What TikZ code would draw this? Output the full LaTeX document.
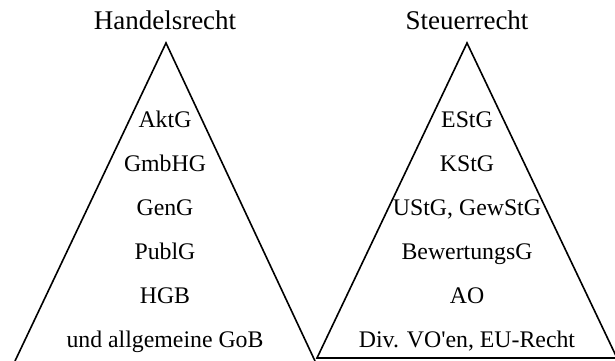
\documentclass[tikz,border=0pt]{standalone}
\usepackage{fontspec}
\setmainfont{Liberation Serif}
\newfontfamily\plainq{Liberation Serif}
\begin{document}
\begin{tikzpicture}[x=1pt,y=1pt,
  title/.style={anchor=base,inner sep=0pt,font=\fontsize{27}{31}\selectfont},
  item/.style={anchor=base,inner sep=0pt,font=\fontsize{23.8}{28}\selectfont},
  edge/.style={line width=1.6pt,line join=miter}]
\useasboundingbox (0,0) rectangle (615,360);
% left triangle (base not shown)
\coordinate (LA) at (166,317);
\coordinate (LL) at (15,-1);
\coordinate (LR) at (315,-1);
\draw[edge] (LL) -- (LA) -- (LR);
% right triangle
\coordinate (RA) at (467,317);
\coordinate (RL) at (317,2);
\coordinate (RR) at (617,2);
\draw[edge] (RL) -- (RA) -- (RR) -- cycle;
% titles
\node[title] (t1) at (165,331) {Handelsrecht};
\node[title] (t2) at (467,331) {Steuerrecht};
% left items
\node[item] (l1) at (165,233) {AktG};
\node[item] (l2) at (165,189) {GmbHG};
\node[item] (l3) at (165,145) {GenG};
\node[item] (l4) at (165,101) {PublG};
\node[item] (l5) at (165,57) {HGB};
\node[item] (l6) at (165,13) {und allgemeine GoB};
% right items
\node[item] (r1) at (467,233) {EStG};
\node[item] (r2) at (467,189) {KStG};
\node[item] (r3) at (467,145) {UStG, GewStG};
\node[item] (r4) at (467,101) {BewertungsG};
\node[item] (r5) at (467,57) {AO};
\node[item] (r6) at (467,13) {Div. VO{\plainq '}en, EU-Recht};
\end{tikzpicture}
\end{document}
